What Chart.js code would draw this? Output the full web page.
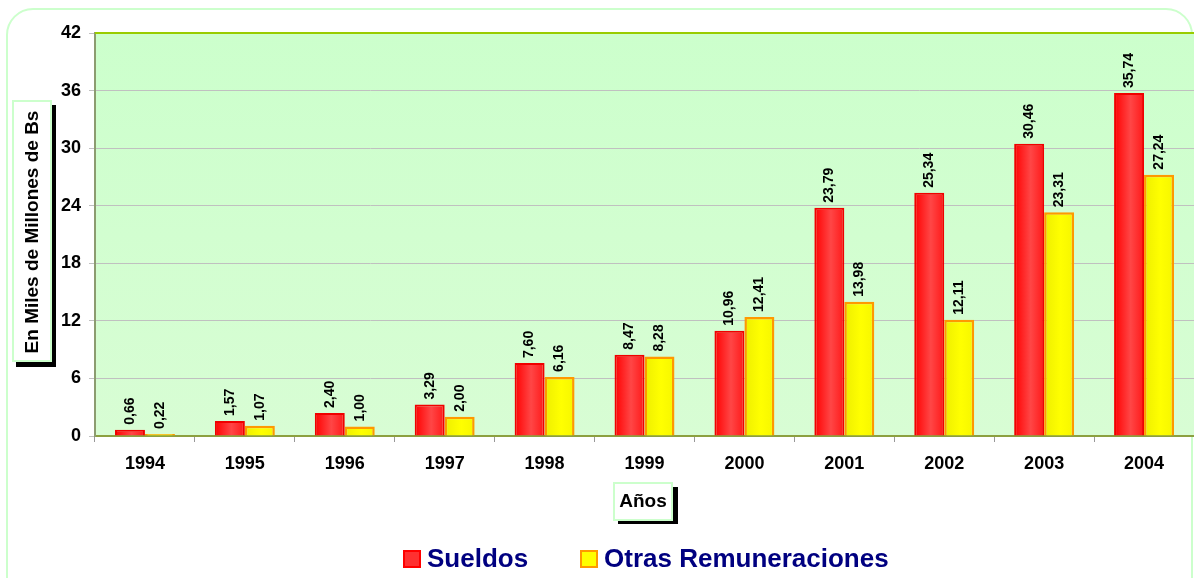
<!DOCTYPE html>
<html>
<head>
<meta charset="utf-8">
<script src="https://cdn.jsdelivr.net/npm/chart.js@4.4.1/dist/chart.umd.min.js"></script>
<style>
  html, body { margin: 0; padding: 0; background: #fff; }
  #wrap { width: 1194px; height: 578px; position: relative; }
</style>
</head>
<body>
<div id="wrap"><canvas id="myChart" width="1194" height="578"></canvas></div>
<script>
// datos del grafico
const anios = ['1994','1995','1996','1997','1998','1999','2000','2001','2002','2003','2004'];
const sueldos = [0.66, 1.57, 2.40, 3.29, 7.60, 8.47, 10.96, 23.79, 25.34, 30.46, 35.74];
const otras = [0.22, 1.07, 1.00, 2.00, 6.16, 8.28, 12.41, 13.98, 12.11, 23.31, 27.24];
const yTicks = [0, 6, 12, 18, 24, 30, 36, 42];
const serieNombres = ['Sueldos', 'Otras Remuneraciones'];

const FONT = 'Arial, "Liberation Sans", sans-serif';

// fondo verde, degradado de barras, etiquetas y titulos
const fondoPlugin = {
  id: 'fondo',
  beforeDraw(chart) {
    const c = chart.ctx;
    const a = chart.chartArea;
    c.save();
    c.strokeStyle = '#ccffcc';
    c.lineWidth = 2;
    c.beginPath();
    c.roundRect(7, 9, 1185, 600, 26);
    c.stroke();
    const g = c.createLinearGradient(0, a.top, 0, a.bottom);
    g.addColorStop(0, '#ccffcc');
    g.addColorStop(1, '#d8fdd4');
    c.fillStyle = g;
    c.fillRect(a.left, a.top, a.right - a.left, a.bottom - a.top);
    c.restore();
  },
  beforeDatasetsDraw(chart) {
    const c = chart.ctx;
    chart.data.datasets.forEach((ds, i) => {
      const meta = chart.getDatasetMeta(i);
      meta.data.forEach(bar => {
        const w = bar.width;
        const x0 = bar.x - w / 2;
        const g = c.createLinearGradient(x0, 0, x0 + w, 0);
        if (i === 0) {
          g.addColorStop(0, '#ff0000');
          g.addColorStop(0.55, '#ff4646');
          g.addColorStop(1, '#ff1818');
        } else {
          g.addColorStop(0, '#eeee00');
          g.addColorStop(0.55, '#ffff00');
          g.addColorStop(1, '#f6f600');
        }
        bar.options.backgroundColor = g;
      });
    });
  },
  afterDatasetsDraw(chart) {
    const c = chart.ctx;
    const a = chart.chartArea;
    c.save();
    c.strokeStyle = '#99cc00';
    c.lineWidth = 2;
    c.beginPath();
    c.moveTo(a.left, a.top);
    c.lineTo(a.right, a.top);
    c.stroke();
    c.fillStyle = '#000';
    c.font = 'bold 14px ' + FONT;
    c.textAlign = 'left';
    c.textBaseline = 'middle';
    chart.data.datasets.forEach((ds, i) => {
      const meta = chart.getDatasetMeta(i);
      meta.data.forEach((bar, j) => {
        const txt = ds.data[j].toFixed(2).replace('.', ',');
        c.save();
        c.translate(bar.x, bar.y - 5);
        c.rotate(-Math.PI / 2);
        c.fillText(txt, 0, 0);
        c.restore();
      });
    });
    c.restore();
  },
  afterDraw(chart) {
    const c = chart.ctx;
    c.save();
    // titulo eje Y
    c.fillStyle = '#000';
    c.fillRect(16, 105, 40, 262);
    c.fillStyle = '#fff';
    c.fillRect(12, 100, 40, 262);
    c.strokeStyle = '#ccffcc';
    c.lineWidth = 2;
    c.strokeRect(13, 101, 38, 260);
    c.fillStyle = '#000';
    c.font = 'bold 19px ' + FONT;
    c.textAlign = 'center';
    c.textBaseline = 'middle';
    c.save();
    c.translate(33, 232);
    c.rotate(-Math.PI / 2);
    c.fillText('En Miles de Millones de Bs', 0, 0);
    c.restore();
    // titulo eje X
    c.fillStyle = '#000';
    c.fillRect(618, 487, 60, 37);
    c.fillStyle = '#fff';
    c.fillRect(613, 482, 60, 39);
    c.strokeStyle = '#ccffcc';
    c.strokeRect(614, 483, 58, 37);
    c.fillStyle = '#000';
    c.fillText('Años', 643, 502);
    // leyenda
    const items = [
      { x: 403, txt: serieNombres[0], fill: '#ff3030', line: '#ff0000' },
      { x: 580, txt: serieNombres[1], fill: '#ffff00', line: '#ff9900' }
    ];
    c.font = 'bold 26px ' + FONT;
    c.textAlign = 'left';
    items.forEach(it => {
      c.fillStyle = it.fill;
      c.fillRect(it.x, 550, 18, 18);
      c.strokeStyle = it.line;
      c.lineWidth = 2;
      c.strokeRect(it.x + 1, 551, 16, 16);
      c.fillStyle = '#000080';
      c.fillText(it.txt, it.x + 24, 560);
    });
    c.restore();
  }
};

const ctx = document.getElementById('myChart');

new Chart(ctx, {
  type: 'bar',
  data: {
    labels: anios,
    datasets: [
      {
        label: serieNombres[0],
        data: sueldos,
        backgroundColor: () => '#ff2020',
        borderColor: '#f00000',
        borderWidth: 2,
        borderSkipped: 'bottom',
        categoryPercentage: 0.6,
        barPercentage: 1.0
      },
      {
        label: serieNombres[1],
        data: otras,
        backgroundColor: () => '#ffff00',
        borderColor: '#ff9900',
        borderWidth: 2.5,
        borderSkipped: 'bottom',
        categoryPercentage: 0.6,
        barPercentage: 1.0
      }
    ]
  },
  options: {
    responsive: false,
    animation: false,
    layout: { padding: { top: 33, right: 0, left: 0, bottom: 0 } },
    plugins: {
      legend: { display: false },
      tooltip: { enabled: false }
    },
    scales: {
      x: {
        grid: {
          display: true,
          drawOnChartArea: false,
          tickLength: 6,
          color: '#999999',
          offset: true
        },
        border: { color: '#8ca040', width: 2 },
        ticks: {
          color: '#000',
          font: { family: FONT, size: 18, weight: 'bold' },
          padding: 11
        },
        afterFit(scale) { scale.height = 142; }
      },
      y: {
        min: 0,
        max: 42,
        afterBuildTicks(scale) { scale.ticks = yTicks.map(v => ({ value: v })); },
        grid: {
          color: '#c0c0c0',
          tickLength: 6,
          drawTicks: true
        },
        border: { color: '#8c9c70', width: 2 },
        ticks: {
          color: '#000',
          font: { family: FONT, size: 18, weight: 'bold' },
          padding: 8
        },
        afterFit(scale) { scale.width = 95; }
      }
    }
  },
  plugins: [fondoPlugin]
});
</script>
</body>
</html>
